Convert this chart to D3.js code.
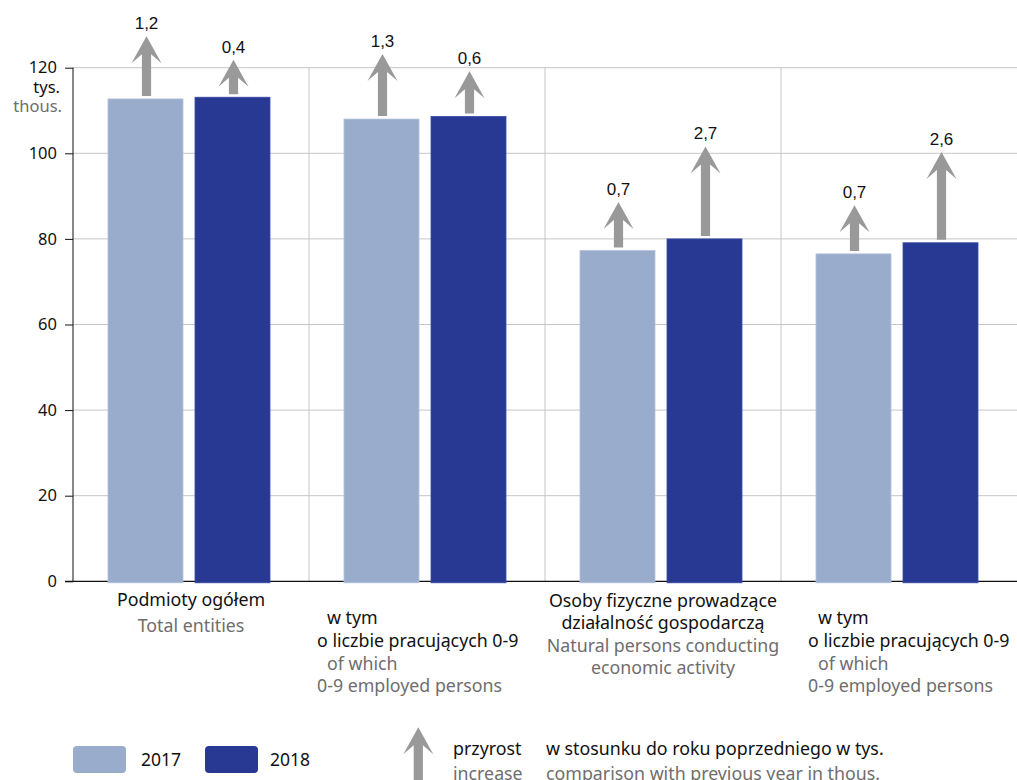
<!DOCTYPE html>
<html>
<head>
<meta charset="utf-8">
<script src="https://cdn.jsdelivr.net/npm/d3@7"></script>
<style>
  html, body { margin: 0; padding: 0; background: #fff; }
  svg { display: block; }
</style>
</head>
<body>
<svg id="chart" width="1017" height="780"></svg>
<script>
// ---- data ----
const categories = ["g1", "g2", "g3", "g4"];
const years = ["2017", "2018"];
const values2017 = [112.7, 108.0, 77.3, 76.5];
const values2018 = [113.1, 108.6, 80.0, 79.1];
const increase2017 = ["1,2", "1,3", "0,7", "0,7"];
const increase2018 = ["0,4", "0,6", "2,7", "2,6"];
const yTicks = [0, 20, 40, 60, 80, 100, 120];
const labelsPL = [
  ["Podmioty ogółem"],
  ["w tym", "o liczbie pracujących 0-9"],
  ["Osoby fizyczne prowadzące", "działalność gospodarczą"],
  ["w tym", "o liczbie pracujących 0-9"]
];
const labelsEN = [
  ["Total entities"],
  ["of which", "0-9 employed persons"],
  ["Natural persons conducting", "economic activity"],
  ["of which", "0-9 employed persons"]
];
const legendArrowPL = ["przyrost", "w stosunku do roku poprzedniego w tys."];
const legendArrowEN = ["increase", "comparison with previous year in thous."];

// ---- style ----
const C2017 = "#99accc", C2018 = "#283994", ARROW = "#999999";
const GRAY_TEXT = "#6e6e6e", DARK = "#111111";
const FONT = "'Noto Sans', 'Open Sans', sans-serif";
const NUMFONT = "'Liberation Sans', Arial, sans-serif";
const FS = 17.8;

const svg = d3.select("#chart");
const pLeft = 73, pRight = 1017, pTop = 67.7, pBottom = 581.3;

const x = d3.scaleBand().domain(categories).range([pLeft, pRight]).paddingInner(0).paddingOuter(0);
const xs = d3.scaleBand().domain(years).range([35, 197]).paddingInner(12 / 87).paddingOuter(0);
const y = d3.scaleLinear().domain([0, 120]).range([pBottom, pTop]);
const arrowLen = d3.scaleSqrt().domain([0, 2.7]).range([0, 89.5]);

// gridlines
svg.append("g").selectAll("line").data(yTicks.filter(d => d > 0)).join("line")
  .attr("x1", pLeft).attr("x2", pRight)
  .attr("y1", d => y(d)).attr("y2", d => y(d))
  .attr("stroke", "#c6c6c6").attr("stroke-width", 1);
svg.append("g").selectAll("line").data(categories.slice(1)).join("line")
  .attr("x1", d => x(d)).attr("x2", d => x(d))
  .attr("y1", pTop).attr("y2", pBottom)
  .attr("stroke", "#c6c6c6").attr("stroke-width", 1);

// y axis
const yAxis = d3.axisLeft(y).tickValues(yTicks).tickSize(8).tickPadding(8).tickFormat(d3.format("d"));
const ya = svg.append("g").attr("transform", `translate(${pLeft},0)`).call(yAxis);
ya.select(".domain").attr("stroke", "#111").attr("d", `M0,${pTop}V${pBottom}`);
ya.selectAll(".tick line").attr("stroke", "#111");
ya.selectAll(".tick text").attr("font-family", FONT).attr("font-size", 16.5).attr("fill", DARK);

svg.append("text").attr("x", 60).attr("y", 93).attr("text-anchor", "end")
  .attr("font-family", FONT).attr("font-size", 16.5).attr("fill", DARK).text("tys.");
svg.append("text").attr("x", 62).attr("y", 112).attr("text-anchor", "end")
  .attr("font-family", FONT).attr("font-size", 16.5).attr("fill", GRAY_TEXT).text("thous.");

// x axis baseline
svg.append("line").attr("x1", pLeft - 8).attr("x2", pRight).attr("y1", pBottom).attr("y2", pBottom)
  .attr("stroke", "#111").attr("stroke-width", 1.2);

// bars
const barData = [];
categories.forEach((c, i) => {
  barData.push({cat: c, year: "2017", v: values2017[i], inc: increase2017[i], color: C2017});
  barData.push({cat: c, year: "2018", v: values2018[i], inc: increase2018[i], color: C2018});
});

svg.append("g").selectAll("rect").data(barData).join("rect")
  .attr("x", d => x(d.cat) + xs(d.year))
  .attr("width", xs.bandwidth())
  .attr("y", d => y(d.v))
  .attr("height", d => y(0) - y(d.v) + 1.5)
  .attr("fill", d => d.color)
  .attr("stroke", d => d.year === "2017" ? "#b3c2dc" : "#3a4aa6")
  .attr("stroke-width", 0.8);

// arrows
function arrowPath(cx, tip, base) {
  const hw = 15, sw = 4.6, hh = 27, notch = 18;
  return `M${cx},${tip} L${cx + hw},${tip + hh} L${cx + sw},${tip + notch} L${cx + sw},${base} ` +
         `L${cx - sw},${base} L${cx - sw},${tip + notch} L${cx - hw},${tip + hh} Z`;
}
const ag = svg.append("g");
barData.forEach(d => {
  const cx = x(d.cat) + xs(d.year) + xs.bandwidth() / 2 + 1;
  const base = y(d.v) - 3;
  const len = arrowLen(+d.inc.replace(",", "."));
  const tip = base - len;
  ag.append("path").attr("d", arrowPath(cx, tip, base)).attr("fill", ARROW);
  ag.append("text").attr("x", cx).attr("y", tip - 7).attr("text-anchor", "middle")
    .attr("font-family", NUMFONT).attr("font-size", 17).attr("fill", DARK).text(d.inc);
});

// category labels
const lg = svg.append("g").attr("font-family", FONT).attr("font-size", FS);
[0, 2].forEach(i => {
  const cx = x(categories[i]) + x.bandwidth() / 2;
  const lines = labelsPL[i].map(t => ({t, c: DARK})).concat(labelsEN[i].map(t => ({t, c: GRAY_TEXT})));
  const ys = i === 0 ? [606, 631.5] : [606.5, 629, 651.5, 674];
  lines.forEach((l, k) => {
    lg.append("text").attr("x", cx).attr("y", ys[k]).attr("text-anchor", "middle")
      .attr("fill", l.c).text(l.t);
  });
});
[[1, 8], [3, 27]].forEach(([i, off]) => {
  const x0 = x(categories[i]) + off;
  const lines = [
    {t: labelsPL[i][0], c: DARK, dx: 10},
    {t: labelsPL[i][1], c: DARK, dx: 0},
    {t: labelsEN[i][0], c: GRAY_TEXT, dx: 10},
    {t: labelsEN[i][1], c: GRAY_TEXT, dx: 0}
  ];
  const ys = [624, 647, 669.5, 692];
  lines.forEach((l, k) => {
    lg.append("text").attr("x", x0 + l.dx).attr("y", ys[k]).attr("fill", l.c).text(l.t);
  });
});

// legend
const leg = svg.append("g").attr("font-family", FONT).attr("font-size", 17.5);
[[years[0], C2017, 73, 141], [years[1], C2018, 205, 270]].forEach(([t, c, sx, tx]) => {
  leg.append("rect").attr("x", sx).attr("y", 746).attr("width", 53).attr("height", 27)
    .attr("rx", 4).attr("fill", c);
  leg.append("text").attr("x", tx).attr("y", 766).attr("fill", DARK).text(t);
});
leg.append("path").attr("d", arrowPath(418.3, 727.3, 790)).attr("fill", ARROW);
leg.append("text").attr("x", 453).attr("y", 755).attr("fill", DARK).attr("font-size", FS).text(legendArrowPL[0]);
leg.append("text").attr("x", 453).attr("y", 780).attr("fill", GRAY_TEXT).attr("font-size", FS).text(legendArrowEN[0]);
leg.append("text").attr("x", 546).attr("y", 755).attr("fill", DARK).attr("font-size", FS).text(legendArrowPL[1]);
leg.append("text").attr("x", 546).attr("y", 780).attr("fill", GRAY_TEXT).attr("font-size", FS).text(legendArrowEN[1]);
</script>
</body>
</html>
